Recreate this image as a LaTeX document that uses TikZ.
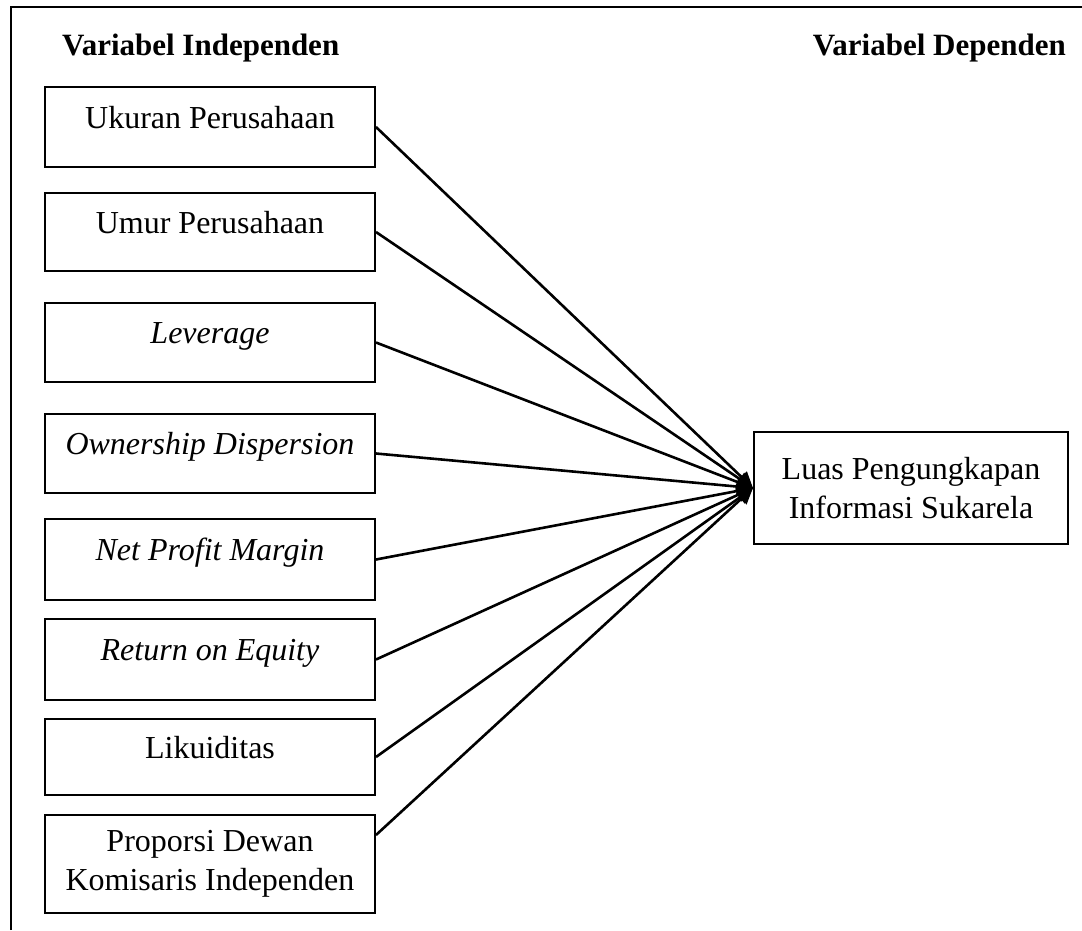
\documentclass[tikz,border=0pt]{standalone}
\usepackage{fontspec}
\setmainfont{Liberation Serif}
\usetikzlibrary{arrows.meta}
\begin{document}
\begin{tikzpicture}[x=1pt,y=-1pt,
  box/.style={draw, line width=2pt, minimum width=330pt, inner sep=0pt, align=center,
    font=\fontsize{32}{39}\selectfont},
  one/.style={text height=21pt, text depth=19pt},
  head/.style={font=\fontsize{31}{40}\selectfont\bfseries, inner sep=0pt},
  conn/.style={line width=2.6pt, -{Triangle[length=16pt,width=15pt]}},
  frame/.style={line width=2.5pt}]
\useasboundingbox (0,0) rectangle (1082,930);
\draw[frame] (11,930) -- (11,7) -- (1082,7);
\node[head, anchor=base west] (hi) at (62,55) {Variabel Independen};
\node[head, anchor=base east] (hd) at (1066,55) {Variabel Dependen};
\node[box, one, minimum height=80pt] (b1) at (210,127) {Ukuran Perusahaan};
\node[box, one, minimum height=78pt] (b2) at (210,232) {Umur Perusahaan};
\node[box, one, minimum height=79pt] (b3) at (210,342.5) {\itshape Leverage};
\node[box, one, minimum height=79pt] (b4) at (210,453.5) {\itshape Ownership Dispersion};
\node[box, one, minimum height=81pt] (b5) at (210,559.5) {\itshape Net Profit Margin};
\node[box, one, minimum height=81pt] (b6) at (210,659.5) {\itshape Return on Equity};
\node[box, one, minimum height=76pt] (b7) at (210,757) {Likuiditas};
\node[box, minimum height=98pt] (b8) at (210,864) {Proporsi Dewan\\Komisaris Independen};
\node[box, minimum width=314pt, minimum height=112pt] (t) at (911,488) {Luas Pengungkapan\\Informasi Sukarela};
\coordinate (e8) at ([yshift=29pt]b8.east);
\foreach \b in {b1,b2,b3,b4,b5,b6,b7}
  \draw[conn] (\b.east) -- (t.west);
\draw[conn] (e8) -- (t.west);
\end{tikzpicture}
\end{document}
